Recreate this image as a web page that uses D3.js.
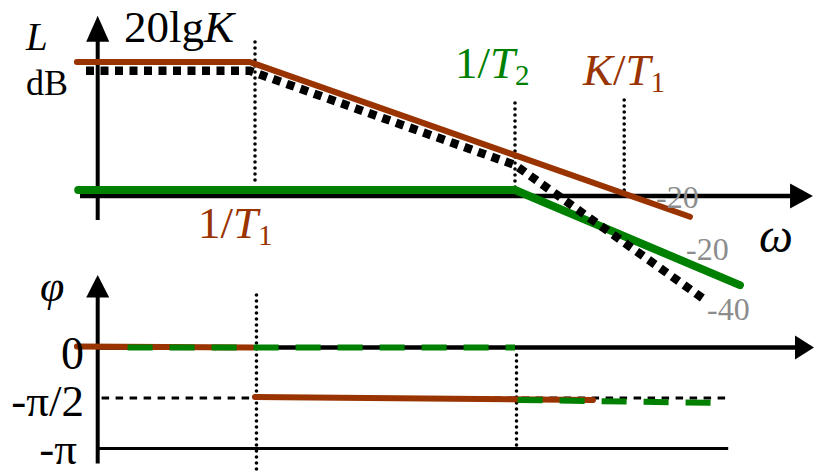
<!DOCTYPE html>
<html>
<head>
<meta charset="utf-8">
<script src="https://cdn.jsdelivr.net/npm/d3@7"></script>
<style>
  html, body { margin: 0; padding: 0; background: #fff; }
  svg { display: block; }
  text { font-family: "Liberation Serif", "Times New Roman", serif; }
</style>
</head>
<body>
<svg id="chart" width="814" height="473"></svg>
<script>
// ---------- data (x in lg ω decades relative to 1/T1, magnitude in dB, phase in rad) ----------
const breakNames = ["1/T1", "1/T2", "K/T1"];
const breakLg = [0, 1, 1.42];

const brownMag = [[-0.685, 29.0], [-0.02, 29.0], [1.673, -4.5]];
const totalMag = [[-0.65, 27.1], [-0.02, 27.1], [1.0, 6.7], [1.731, -22.5]];
const greenMag = [[-0.68, 1.3], [1.0, 1.3], [1.865, -19.3]];

const brownPhase0 = [[-0.685, 0.03], [-0.01, 0.0]];
const brownPhase1 = [[0, -1.54], [1.30, -1.63]];
const greenPhase0 = [[-0.49, 0], [1.0, 0]];
const greenPhase1 = [[1.01, -1.63], [1.754, -1.72]];

const slopeLabels = ["-20", "-20", "-40"];
const phaseTicks = [0, -Math.PI / 2, -Math.PI];
const phaseTickLabels = ["0", "-π/2", "-π"];

// ---------- scales ----------
const svg = d3.select("#chart");
const x = d3.scaleLinear().domain([0, 1]).range([255, 515]);
const yMag = d3.scaleLinear().domain([0, 20]).range([196, 103.6]);
const yPh = d3.scaleLinear().domain([0, -Math.PI]).range([347.5, 448.5]);

const BROWN = "#993300", GREEN = "#008000", GRAY = "#8c8c8c";
const lineMag = d3.line().x(d => x(d[0])).y(d => yMag(d[1]));
const linePh = d3.line().x(d => x(d[0])).y(d => yPh(d[1]));

const axisX = -0.605;

// ---------- magnitude axes ----------
const gTop = svg.append("g");
gTop.append("line")
  .attr("x1", x(axisX)).attr("x2", x(axisX))
  .attr("y1", yMag(-5.2)).attr("y2", yMag(34))
  .attr("stroke", "#000").attr("stroke-width", 4);
gTop.append("path")
  .attr("d", `M${x(axisX)},${yMag(39)} L${x(axisX) - 11.5},${yMag(33.4)} L${x(axisX) + 11.5},${yMag(33.4)} Z`)
  .attr("fill", "#000");
gTop.append("line")
  .attr("x1", x(-0.673)).attr("x2", x(2.07))
  .attr("y1", yMag(0)).attr("y2", yMag(0))
  .attr("stroke", "#000").attr("stroke-width", 4.5);
gTop.append("path")
  .attr("d", `M${x(2.146)},${yMag(0)} L${x(2.058)},${yMag(0) - 12.5} L${x(2.058)},${yMag(0) + 12.5} Z`)
  .attr("fill", "#000");

// ---------- phase axes ----------
const gBot = svg.append("g");
gBot.append("line")
  .attr("x1", x(axisX)).attr("x2", x(axisX))
  .attr("y1", yPh(-Math.PI) + 15).attr("y2", yPh(0) - 52)
  .attr("stroke", "#000").attr("stroke-width", 4);
gBot.append("path")
  .attr("d", `M${x(axisX)},${yPh(0) - 72.5} L${x(axisX) - 11.5},${yPh(0) - 50} L${x(axisX) + 11.5},${yPh(0) - 50} Z`)
  .attr("fill", "#000");
gBot.append("line")
  .attr("x1", x(axisX)).attr("x2", x(2.08))
  .attr("y1", yPh(0)).attr("y2", yPh(0))
  .attr("stroke", "#000").attr("stroke-width", 4.5);
gBot.append("path")
  .attr("d", `M${x(2.15)},${yPh(0)} L${x(2.077)},${yPh(0) - 12} L${x(2.077)},${yPh(0) + 12} Z`)
  .attr("fill", "#000");
// -π line
gBot.append("line")
  .attr("x1", x(axisX)).attr("x2", x(1.82))
  .attr("y1", yPh(-Math.PI)).attr("y2", yPh(-Math.PI))
  .attr("stroke", "#000").attr("stroke-width", 2.8);
// -π/2 dashed
gBot.append("line")
  .attr("x1", x(-0.59)).attr("x2", x(1.82))
  .attr("y1", yPh(-Math.PI / 2)).attr("y2", yPh(-Math.PI / 2))
  .attr("stroke", "#000").attr("stroke-width", 3.2)
  .attr("stroke-dasharray", "7.5,6.5");

// ---------- vertical dotted guides ----------
const guides = [
  { lg: breakLg[0], y1: 42, y2: 183 },
  { lg: breakLg[1], y1: 103, y2: 195 },
  { lg: breakLg[2], y1: 100, y2: 195 },
  { lg: breakLg[0], y1: 295, y2: 473 },
  { lg: breakLg[1], y1: 355, y2: 447 }
];
svg.append("g").selectAll("line").data(guides).join("line")
  .attr("x1", d => x(d.lg) + (d.y1 > 250 ? 1.5 : 0))
  .attr("x2", d => x(d.lg) + (d.y1 > 250 ? 1.5 : 0))
  .attr("y1", d => d.y1).attr("y2", d => d.y2)
  .attr("stroke", "#000").attr("stroke-width", 3.6)
  .attr("stroke-linecap", "round").attr("stroke-dasharray", "0,6");

// ---------- magnitude curves ----------
svg.append("path").attr("d", lineMag(greenMag))
  .attr("fill", "none").attr("stroke", GREEN).attr("stroke-width", 8)
  .attr("stroke-linecap", "round").attr("stroke-linejoin", "round");
svg.append("path").attr("d", lineMag(brownMag))
  .attr("fill", "none").attr("stroke", BROWN).attr("stroke-width", 6)
  .attr("stroke-linecap", "round").attr("stroke-linejoin", "round");
svg.append("path").attr("d", lineMag(totalMag))
  .attr("fill", "none").attr("stroke", "#000").attr("stroke-width", 8.5)
  .attr("stroke-dasharray", "8,6.5");

// ---------- phase curves ----------
[brownPhase0, brownPhase1].forEach(seg => {
  svg.append("path").attr("d", linePh(seg))
    .attr("fill", "none").attr("stroke", BROWN).attr("stroke-width", 6)
    .attr("stroke-linecap", "round");
});
[greenPhase0, greenPhase1].forEach(seg => {
  svg.append("path").attr("d", linePh(seg))
    .attr("fill", "none").attr("stroke", GREEN).attr("stroke-width", 6)
    .attr("stroke-dasharray", "25,17");
});

// ---------- labels ----------
function subLabel(xp, yp, main, italicPart, sub, color) {
  const t = svg.append("text").attr("x", xp).attr("y", yp)
    .attr("font-size", 45).attr("fill", color);
  if (main) t.append("tspan").text(main);
  t.append("tspan").attr("font-style", "italic").text(italicPart);
  t.append("tspan").attr("font-size", 29).attr("dy", 7).text(sub);
  return t;
}
// axis labels
svg.append("text").attr("x", 26).attr("y", 50).attr("font-size", 39)
  .attr("font-style", "italic").text("L");
svg.append("text").attr("x", 26).attr("y", 95).attr("font-size", 36).text("dB");
const k = svg.append("text").attr("x", 124).attr("y", 42).attr("font-size", 45);
k.append("tspan").text("20lg");
k.append("tspan").attr("font-style", "italic").text("K");

// break frequency labels
subLabel(455, 78, "1/", "T", "2", GREEN);
{
  const t = svg.append("text").attr("x", 583).attr("y", 85).attr("font-size", 45).attr("fill", BROWN);
  t.append("tspan").attr("font-style", "italic").text("K");
  t.append("tspan").text("/");
  t.append("tspan").attr("font-style", "italic").text("T");
  t.append("tspan").attr("font-size", 29).attr("dy", 7).text("1");
}
subLabel(198, 238, "1/", "T", "1", BROWN);

svg.append("text").attr("x", 759).attr("y", 252).attr("font-size", 48)
  .attr("font-style", "italic").text("ω");

// slope labels
const slopePos = [[656, 208], [686, 260], [707, 320]];
svg.append("g").selectAll("text").data(slopeLabels).join("text")
  .attr("x", (d, i) => slopePos[i][0]).attr("y", (d, i) => slopePos[i][1])
  .attr("font-size", 32).attr("fill", GRAY).text(d => d);

// phase labels
svg.append("text").attr("x", 40).attr("y", 301).attr("font-size", 44)
  .attr("font-style", "italic").text("φ");
const tickSize = [46, 45, 45];
const tickDy = [21, 18, 15];
const tickEnd = [84, 84, 77];
svg.append("g").selectAll("text").data(phaseTicks).join("text")
  .attr("x", (d, i) => tickEnd[i]).attr("y", (d, i) => yPh(d) + tickDy[i])
  .attr("text-anchor", "end").attr("font-size", (d, i) => tickSize[i])
  .text((d, i) => phaseTickLabels[i]);
</script>
</body>
</html>
